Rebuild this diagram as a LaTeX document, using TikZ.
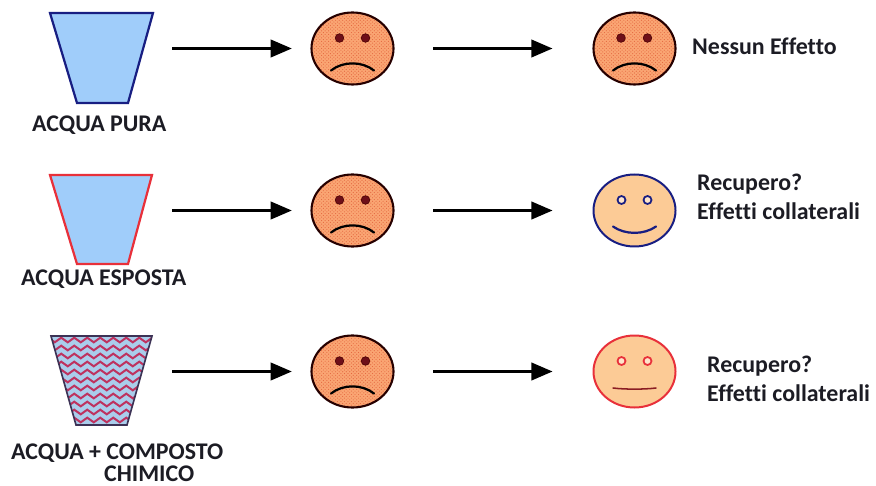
\documentclass[tikz,border=0pt]{standalone}
\usepackage{fontspec}
\setmainfont{Carlito}[Ligatures=CommonOff]
\usetikzlibrary{arrows.meta, shapes.geometric, patterns, decorations.pathmorphing}
\definecolor{darkB}{RGB}{24, 30, 130}
\definecolor{lightB}{RGB}{160, 205, 250}
\definecolor{darkR}{RGB}{232, 48, 58}
\definecolor{waveR}{RGB}{190, 50, 95}
\definecolor{lightW}{RGB}{170, 205, 235}
\definecolor{darkG}{RGB}{60, 50, 85}
\definecolor{sadF}{RGB}{250, 165, 115}
\definecolor{sadD}{RGB}{228, 105, 65}
\definecolor{peachF}{RGB}{252, 203, 150}
\definecolor{eyeD}{RGB}{110, 15, 25}
\definecolor{inkT}{RGB}{28, 28, 36}
\tikzset{
  sadface/.style={ellipse, draw=black!85!red, line width=1.8pt, minimum width=2.46cm, minimum height=2.16cm, inner sep=0pt, preaction={fill=sadF}, pattern=crosshatch dots, pattern color=sadD},
  okface/.style={ellipse, line width=1.7pt, minimum width=2.46cm, minimum height=2.16cm, inner sep=0pt, fill=peachF},
  sadeye/.style={circle, fill=eyeD, draw=black!70!red, line width=0.5pt, minimum size=0.26cm, inner sep=0pt},
  okeye/.style={circle, fill=peachF!50!white, line width=1.5pt, minimum size=0.24cm, inner sep=0pt},
  mouth/.style={line width=1.9pt, line cap=round},
  flow/.style={-{Triangle[length=18pt, width=15pt]}, line width=1.9pt, black},
  lab/.style={anchor=west, inner sep=0pt, text=inkT, font=\fontsize{20.4}{24}\selectfont\bfseries},
}

\begin{document}
\begin{tikzpicture}[x=0.03cm, y=-0.03cm]
  \useasboundingbox (0,0) rectangle (876,486);

  % buckets
  \coordinate (puraTL) at (50,13);
  \coordinate (puraTR) at (153,13);
  \coordinate (puraBR) at (128,103);
  \coordinate (puraBL) at (77,103);
  \coordinate (espTL) at (50,175);
  \coordinate (espTR) at (152,175);
  \coordinate (espBR) at (128,264);
  \coordinate (espBL) at (77,264);
  \coordinate (chimTL) at (51,336);
  \coordinate (chimTR) at (152,336);
  \coordinate (chimBR) at (127,425);
  \coordinate (chimBL) at (76,425);

  \path[draw=darkB, fill=lightB, line width=1.9pt, line join=miter] (puraTL) -- (puraTR) -- (puraBR) -- (puraBL) -- cycle;
  \path[draw=darkR, fill=lightB, line width=1.9pt, line join=miter] (espTL) -- (espTR) -- (espBR) -- (espBL) -- cycle;

  \path[fill=lightW] (chimTL) -- (chimTR) -- (chimBR) -- (chimBL) -- cycle;
  \begin{scope}
    \clip (chimTL) -- (chimTR) -- (chimBR) -- (chimBL) -- cycle;
    \foreach \y in {340,348,...,428}
      \draw[waveR, line width=1.7pt, decorate, decoration={zigzag, segment length=0.39cm, amplitude=0.07cm}] (45,\y) -- (160,\y);
  \end{scope}
  \path[draw=darkG, line width=1.4pt] (chimTL) -- (chimTR) -- (chimBR) -- (chimBL) -- cycle;

  % faces, first column
  \node[sadface] (midA) at (352.5,48.5) {};
  \node[sadeye] (midAl) at (339.5,38) {};
  \node[sadeye] (midAr) at (365.5,38) {};
  \draw[mouth] (331,70.5) .. controls (343,61) and (362,61) .. (374,70.5);

  \node[sadface] (midB) at (352.5,210.5) {};
  \node[sadeye] (midBl) at (339.5,200) {};
  \node[sadeye] (midBr) at (365.5,200) {};
  \draw[mouth] (331,232.5) .. controls (343,223) and (362,223) .. (374,232.5);

  \node[sadface] (midC) at (352.5,371.5) {};
  \node[sadeye] (midCl) at (339.5,361) {};
  \node[sadeye] (midCr) at (365.5,361) {};
  \draw[mouth] (331,393.5) .. controls (343,384) and (362,384) .. (374,393.5);

  % faces, second column
  \node[sadface] (endA) at (634.5,48.5) {};
  \node[sadeye] (endAl) at (621,38) {};
  \node[sadeye] (endAr) at (647.5,38) {};
  \draw[mouth] (613,70.5) .. controls (625,61) and (644,61) .. (656,70.5);

  \node[okface, draw=darkB] (endB) at (634.5,210.5) {};
  \node[okeye, draw=darkB] (endBl) at (621.5,200) {};
  \node[okeye, draw=darkB] (endBr) at (647.5,200) {};
  \draw[mouth, darkB] (613,226.5) .. controls (625,235) and (644,235) .. (656,226.5);

  \node[okface, draw=darkR] (endC) at (634.5,371.5) {};
  \node[okeye, draw=darkR] (endCl) at (621.5,361) {};
  \node[okeye, draw=darkR] (endCr) at (647.5,361) {};
  \draw[mouth, line width=1.3pt, darkR!60!black] (613,388) .. controls (625,389.5) and (644,389.5) .. (656,388);

  % arrows
  \coordinate (startA) at (172,48.5);
  \coordinate (startB) at (172,210.5);
  \coordinate (startC) at (172,371.5);

  \draw[flow, shorten >=0.56cm] (startA) -- (midA);
  \draw[flow, shorten >=0.56cm] (startB) -- (midB);
  \draw[flow, shorten >=0.56cm] (startC) -- (midC);
  \draw[flow, shorten <=1.16cm, shorten >=1.2cm] (midA) -- (endA);
  \draw[flow, shorten <=1.16cm, shorten >=1.2cm] (midB) -- (endB);
  \draw[flow, shorten <=1.16cm, shorten >=1.2cm] (midC) -- (endC);

  % labels
  \node[lab] (labA) at (32,125) {ACQUA PURA};
  \node[lab] (labB) at (21,279) {ACQUA ESPOSTA};
  \node[lab] (labC) at (11,453) {ACQUA + COMPOSTO};
  \node[lab] (labD) at (104,474) {CHIMICO};

  \node[lab] (noteA) at (692,46) {Nessun Effetto};
  \node[lab] (noteB) at (697,184) {Recupero?};
  \node[lab] (noteBb) at (697,211) {Effetti collaterali};
  \node[lab] (noteC) at (707,366) {Recupero?};
  \node[lab] (noteCb) at (707,393) {Effetti collaterali};
\end{tikzpicture}
\end{document}
